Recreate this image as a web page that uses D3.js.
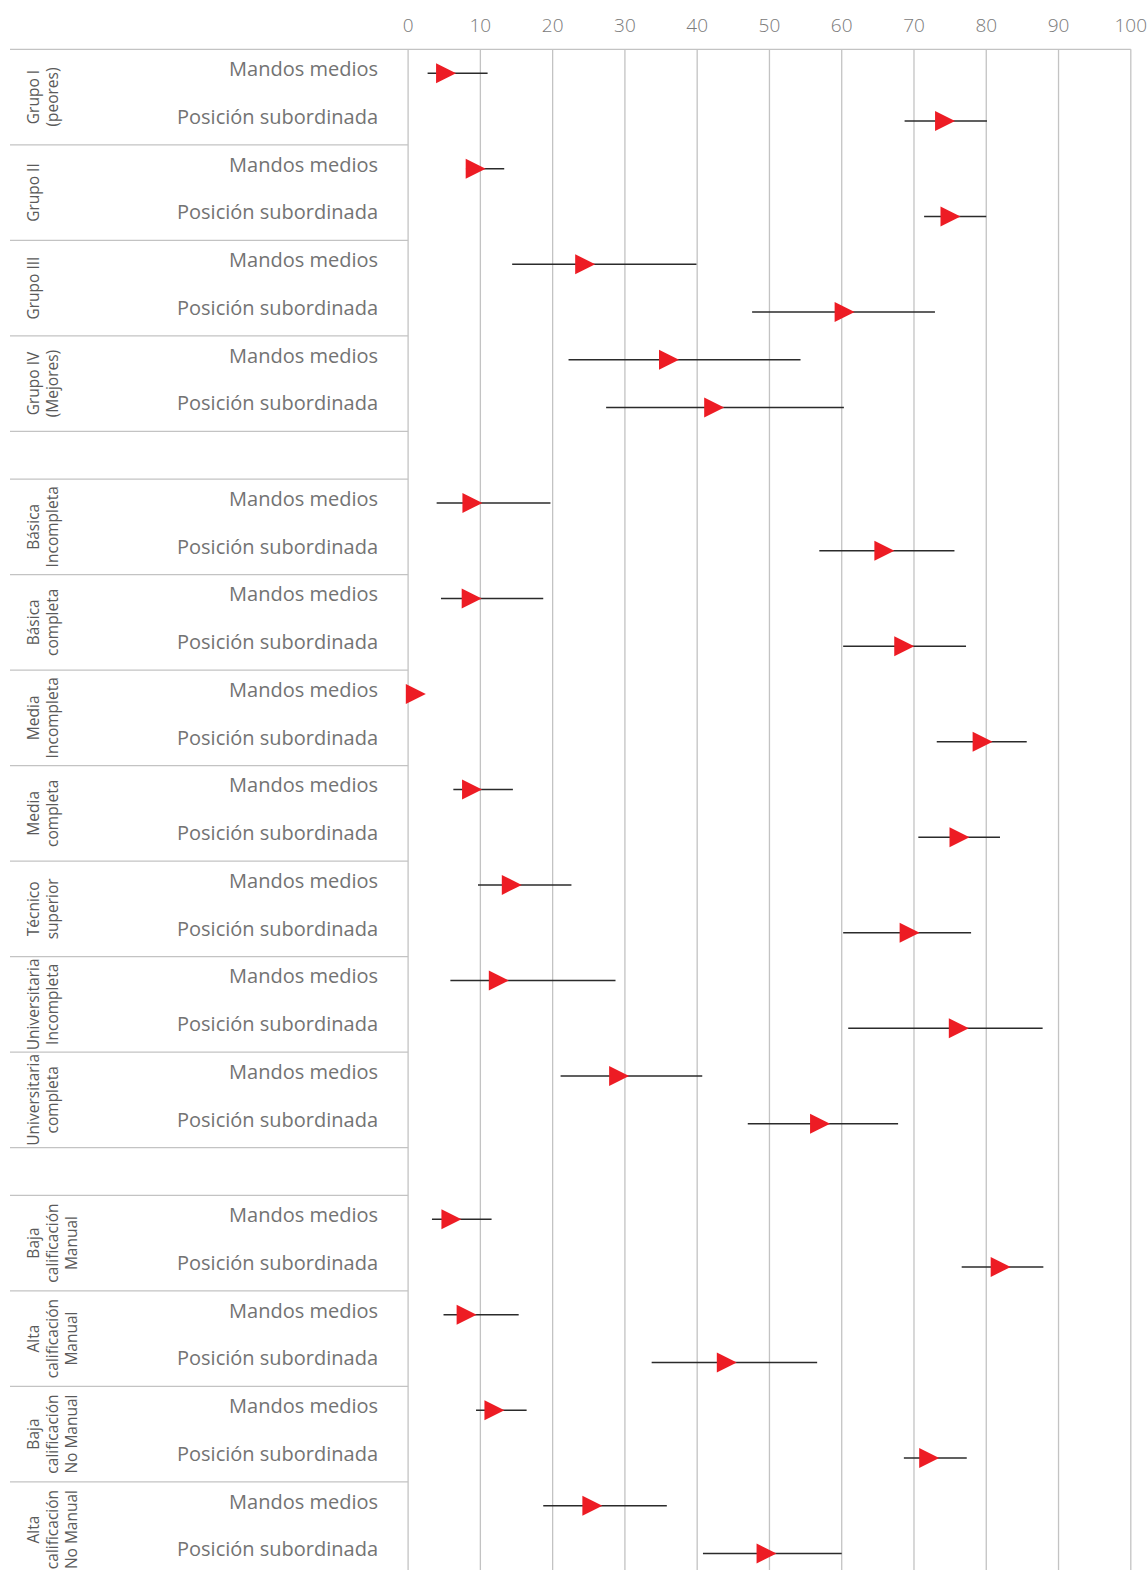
<!DOCTYPE html>
<html>
<head>
<meta charset="utf-8">
<script src="https://cdn.jsdelivr.net/npm/d3@7"></script>
<style>
  body { margin: 0; background: #fff; }
  svg text { font-family: "Open Sans", sans-serif; }
</style>
</head>
<body>
<svg width="1147" height="1570"></svg>
<script>
// groups from top to bottom, null = empty spacer row
const groupNames = [
  ["Grupo I", "(peores)"], ["Grupo II"], ["Grupo III"], ["Grupo IV", "(Mejores)"],
  null,
  ["Básica", "Incompleta"], ["Básica", "completa"], ["Media", "Incompleta"], ["Media", "completa"],
  ["Técnico", "superior"], ["Universitaria", "Incompleta"], ["Universitaria", "completa"],
  null,
  ["Baja", "calificación", "Manual"], ["Alta", "calificación", "Manual"],
  ["Baja", "calificación", "No Manual"], ["Alta", "calificación", "No Manual"]
];
const rowLabels = ["Mandos medios", "Posición subordinada"];

// values for the non-spacer groups, in the same order
const mandosMean = [5.25, 9.35, 24.5, 36.1, 8.9, 8.8, 1.07, 8.85, 14.35, 12.55, 29.2, 6.0, 8.1, 11.95, 25.5];
const mandosLow  = [2.7, 8.0, 14.4, 22.2, 3.95, 4.55, null, 6.26, 9.67, 5.85, 21.1, 3.3, 4.9, 9.4, 18.7];
const mandosHigh = [11.0, 13.3, 39.9, 54.3, 19.7, 18.7, null, 14.5, 22.6, 28.7, 40.7, 11.55, 15.3, 16.4, 35.8];
const subMean = [74.3, 75.05, 60.4, 42.35, 65.9, 68.65, 79.5, 76.3, 69.4, 76.2, 57.0, 82.0, 44.1, 72.1, 49.6];
const subLow  = [68.7, 71.4, 47.6, 27.4, 56.9, 60.2, 73.15, 70.6, 60.2, 60.9, 47.0, 76.6, 33.7, 68.6, 40.8];
const subHigh = [80.1, 80.0, 72.9, 60.3, 75.6, 77.2, 85.6, 81.9, 77.9, 87.8, 67.8, 87.9, 56.6, 77.3, 60.0];

const xTicks = [0, 10, 20, 30, 40, 50, 60, 70, 80, 90, 100];

const svg = d3.select("svg");

// build rows
const rows = [];
const groups = [];
let k = 0;
groupNames.forEach((g, gi) => {
  if (g === null) {
    const id = "sp" + gi;
    rows.push(id);
    groups.push({ name: null, rows: [id] });
    return;
  }
  const ids = [];
  rowLabels.forEach((lab, ri) => {
    const id = "g" + gi + "r" + ri;
    ids.push(id);
    rows.push(id);
  });
  groups.push({ name: g, rows: ids, idx: k });
  k++;
});

const points = [];
groups.forEach(g => {
  if (!g.name) return;
  const i = g.idx;
  points.push({ row: g.rows[0], label: rowLabels[0], mean: mandosMean[i], lo: mandosLow[i], hi: mandosHigh[i] });
  points.push({ row: g.rows[1], label: rowLabels[1], mean: subMean[i], lo: subLow[i], hi: subHigh[i] });
});

const topY = 49.3, rowH = 47.75;
const x = d3.scaleLinear().domain([0, 100]).range([408.1, 1130.8]);
const y = d3.scaleBand().domain(rows).range([topY, topY + rows.length * rowH]);

// gridlines
svg.append("g").selectAll("line")
  .data(xTicks)
  .join("line")
  .attr("x1", d => x(d)).attr("x2", d => x(d))
  .attr("y1", topY).attr("y2", 1570)
  .attr("stroke", "#c3c3c3")
  .attr("stroke-width", 1.3);

// top line
svg.append("line")
  .attr("x1", 10).attr("x2", x(100))
  .attr("y1", topY).attr("y2", topY)
  .attr("stroke", "#c3c3c3").attr("stroke-width", 1.3);

// tick labels
svg.append("g").selectAll("text")
  .data(xTicks)
  .join("text")
  .attr("x", d => x(d))
  .attr("y", 32)
  .attr("text-anchor", "middle")
  .attr("font-size", 19)
  .attr("font-weight", 300)
  .attr("fill", "#7a7a7a")
  .text(d => d);

// group separators in label area
groups.forEach(g => {
  const yb = y(g.rows[g.rows.length - 1]) + y.bandwidth();
  svg.append("line")
    .attr("x1", 10).attr("x2", x(0))
    .attr("y1", yb).attr("y2", yb)
    .attr("stroke", "#c3c3c3").attr("stroke-width", 1.3);
});

// group labels (rotated)
groups.forEach(g => {
  if (!g.name) return;
  const yc = (y(g.rows[0]) + y(g.rows[g.rows.length - 1]) + y.bandwidth()) / 2;
  const t = svg.append("text")
    .attr("transform", `translate(0,${yc}) rotate(-90)`)
    .attr("text-anchor", "middle")
    .attr("font-size", 15.5)
    .attr("fill", "#5a5a5a");
  g.name.forEach((line, li) => {
    t.append("tspan")
      .attr("x", 0)
      .attr("y", 39 + li * 19)
      .text(line);
  });
});

// row labels
svg.append("g").selectAll("text")
  .data(points)
  .join("text")
  .attr("x", 378)
  .attr("y", d => y(d.row) + y.bandwidth() / 2 + 3)
  .attr("text-anchor", "end")
  .attr("font-size", 20)
  .attr("fill", "#737373")
  .text(d => d.label);

// error bars
svg.append("g").selectAll("line")
  .data(points.filter(d => d.lo !== null))
  .join("line")
  .attr("x1", d => x(d.lo)).attr("x2", d => x(d.hi))
  .attr("y1", d => y(d.row) + y.bandwidth() / 2)
  .attr("y2", d => y(d.row) + y.bandwidth() / 2)
  .attr("stroke", "#2b2b2b")
  .attr("stroke-width", 1.6);

// triangle markers
svg.append("g").selectAll("path")
  .data(points)
  .join("path")
  .attr("transform", d => `translate(${x(d.mean)},${y(d.row) + y.bandwidth() / 2})`)
  .attr("d", "M-10,-10L10,0L-10,10Z")
  .attr("fill", "#ed1c24");
</script>
</body>
</html>
